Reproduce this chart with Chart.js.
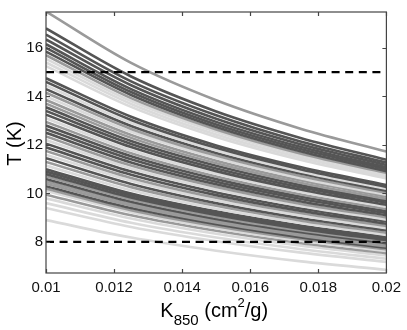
<!DOCTYPE html>
<html>
<head>
<meta charset="utf-8">
<script src="https://cdn.jsdelivr.net/npm/chart.js@4"></script>
<style>
  html, body { margin: 0; padding: 0; background: #fff; }
  #wrap { width: 407px; height: 330px; }
</style>
</head>
<body>
<div id="wrap"><canvas id="chart" width="407" height="330"></canvas></div>
<script>
// opacity K at 850 um (cm2/g) where each curve is sampled
const K_VALUES = [0.01, 0.0125, 0.015, 0.0175, 0.02];

// temperature (K) of every curve at the K_VALUES above
const T_AT_0100 = [17.5, 16.8, 16.55, 16.35, 16.15, 16.0, 15.85, 15.7, 15.55, 15.4, 15.25,
  14.75, 14.6, 14.45, 14.3, 14.15, 14.0, 13.85, 13.7, 13.55, 13.4, 13.25, 13.1, 12.95, 12.8, 12.65,
  12.5, 12.35, 12.2, 12.05, 11.9, 11.75, 11.6, 11.45, 11.3, 11.15, 11.0, 10.9, 10.8, 10.7, 10.6,
  10.5, 10.4, 10.3, 10.2, 10.1, 9.95, 9.8, 9.6, 9.4, 8.9];
const T_AT_0125 = [15.38, 14.82, 14.62, 14.46, 14.30, 14.18, 14.06, 13.93, 13.81, 13.69, 13.57,
  13.16, 13.03, 12.91, 12.78, 12.66, 12.54, 12.41, 12.29, 12.16, 12.04, 11.91, 11.78, 11.66, 11.53, 11.41,
  11.28, 11.15, 11.03, 10.90, 10.77, 10.64, 10.52, 10.39, 10.26, 10.13, 10.00, 9.92, 9.83, 9.75, 9.66,
  9.57, 9.49, 9.40, 9.31, 9.23, 9.10, 8.97, 8.79, 8.62, 8.18];
const T_AT_0150 = [13.84, 13.38, 13.22, 13.08, 12.95, 12.84, 12.74, 12.64, 12.54, 12.43, 12.33,
  11.98, 11.88, 11.77, 11.67, 11.56, 11.46, 11.35, 11.24, 11.14, 11.03, 10.92, 10.81, 10.70, 10.59, 10.48,
  10.38, 10.27, 10.16, 10.04, 9.93, 9.82, 9.71, 9.60, 9.49, 9.37, 9.26, 9.18, 9.11, 9.03, 8.95,
  8.88, 8.80, 8.73, 8.65, 8.57, 8.46, 8.34, 8.18, 8.03, 7.64];
const T_AT_0175 = [12.66, 12.28, 12.13, 12.02, 11.91, 11.82, 11.73, 11.64, 11.56, 11.47, 11.38,
  11.08, 10.99, 10.90, 10.81, 10.71, 10.62, 10.53, 10.43, 10.34, 10.25, 10.15, 10.06, 9.96, 9.86, 9.77,
  9.67, 9.57, 9.47, 9.38, 9.28, 9.18, 9.08, 8.98, 8.88, 8.78, 8.67, 8.61, 8.54, 8.47, 8.40,
  8.33, 8.26, 8.19, 8.12, 8.05, 7.95, 7.84, 7.70, 7.56, 7.20];
const T_AT_0200 = [11.73, 11.39, 11.27, 11.17, 11.07, 11.00, 10.92, 10.85, 10.77, 10.69, 10.62,
  10.35, 10.27, 10.19, 10.11, 10.03, 9.95, 9.87, 9.78, 9.70, 9.62, 9.53, 9.45, 9.36, 9.27, 9.19,
  9.10, 9.01, 8.92, 8.84, 8.75, 8.66, 8.57, 8.48, 8.38, 8.29, 8.20, 8.14, 8.08, 8.01, 7.95,
  7.89, 7.82, 7.76, 7.70, 7.63, 7.54, 7.44, 7.31, 7.18, 6.85];

// which of the three groups each curve belongs to
const GROUP = [1, 0, 0, 0, 0, 0, 0, 1, 2, 2, 2,
  0, 0, 2, 0, 1, 2, 1, 1, 0, 0, 0, 2, 1, 0, 0,
  0, 1, 2, 0, 0, 1, 2, 0, 1, 2, 0, 0, 0, 1, 0,
  1, 1, 0, 1, 2, 1, 2, 2, 2, 2];

// horizontal reference temperatures
const T_LIMITS = [15, 8];

const X_TICKS = [0.01, 0.012, 0.014, 0.016, 0.018, 0.02];
const Y_TICKS = [8, 10, 12, 14, 16];
const Y_MIN = 6.72, Y_MAX = 17.48;

const GROUP_COLORS = ['#555555', '#9a9a9a', '#dadada'];
const FONT = '"Liberation Sans", Arial, Helvetica, sans-serif';
const AXIS_COLOR = '#444';

const columns = [T_AT_0100, T_AT_0125, T_AT_0150, T_AT_0175, T_AT_0200];

const curveSets = GROUP.map((g, i) => ({
    data: K_VALUES.map((k, j) => ({ x: k, y: columns[j][i] })),
    borderColor: GROUP_COLORS[g],
    borderWidth: 2.6,
    pointRadius: 0,
    cubicInterpolationMode: 'monotone',
    fill: false
}));

const limitSets = T_LIMITS.map(t => ({
    data: [{ x: K_VALUES[0], y: t }, { x: K_VALUES[K_VALUES.length - 1], y: t }],
    borderColor: '#000',
    borderWidth: 2.2,
    borderDash: [8, 5.6],
    pointRadius: 0,
    order: -1
}));

// box, inward ticks and the axis titles (with sub/superscript)
const frame = {
    id: 'frame',
    afterDraw(chart) {
        const { ctx, chartArea: a, scales } = chart;
        ctx.save();
        ctx.strokeStyle = AXIS_COLOR;
        ctx.lineWidth = 1.2;
        ctx.strokeRect(a.left, a.top, a.right - a.left, a.bottom - a.top);
        ctx.beginPath();
        X_TICKS.forEach(v => {
            const px = Math.round(scales.x.getPixelForValue(v)) + 0.5;
            ctx.moveTo(px, a.bottom); ctx.lineTo(px, a.bottom - 4);
            ctx.moveTo(px, a.top); ctx.lineTo(px, a.top + 4);
        });
        Y_TICKS.forEach(v => {
            const py = Math.round(scales.y.getPixelForValue(v)) + 0.5;
            ctx.moveTo(a.left, py); ctx.lineTo(a.left + 4, py);
            ctx.moveTo(a.right, py); ctx.lineTo(a.right - 4, py);
        });
        ctx.stroke();

        ctx.fillStyle = '#000';
        // y title
        ctx.save();
        ctx.translate(15, (a.top + a.bottom) / 2 + 1);
        ctx.rotate(-Math.PI / 2);
        ctx.font = '20px ' + FONT;
        ctx.textAlign = 'center';
        ctx.textBaseline = 'middle';
        ctx.fillText('T (K)', 0, 0);
        ctx.restore();

        // x title: K_850 (cm^2/g)
        const parts = [
            { t: 'K', size: 20, dy: 0 },
            { t: '850', size: 15, dy: 8 },
            { t: ' (cm', size: 20, dy: 0 },
            { t: '2', size: 13, dy: -10 },
            { t: '/g)', size: 20, dy: 0 }
        ];
        let total = 0;
        parts.forEach(p => { ctx.font = p.size + 'px ' + FONT; p.w = ctx.measureText(p.t).width; total += p.w; });
        let x = (a.left + a.right) / 2 - total / 2 - 2;
        const base = 317;
        ctx.textAlign = 'left';
        ctx.textBaseline = 'alphabetic';
        parts.forEach(p => {
            ctx.font = p.size + 'px ' + FONT;
            ctx.fillText(p.t, x, base + p.dy);
            x += p.w;
        });
        ctx.restore();
    }
};

new Chart(document.getElementById('chart'), {
    type: 'line',
    data: { datasets: curveSets.concat(limitSets) },
    options: {
        responsive: false,
        animation: false,
        events: [],
        layout: { padding: { top: 4, right: 20, left: 0, bottom: 0 } },
        plugins: { legend: { display: false }, tooltip: { enabled: false } },
        scales: {
            x: {
                type: 'linear', min: 0.01, max: 0.02,
                grid: { display: false, drawTicks: false },
                border: { display: false },
                afterBuildTicks: s => { s.ticks = X_TICKS.map(v => ({ value: v })); },
                afterFit: s => { s.height = 57; },
                ticks: {
                    padding: 6, color: '#111', maxRotation: 0, autoSkip: false,
                    font: { family: FONT, size: 15 },
                    callback: v => String(parseFloat(v.toFixed(3)))
                }
            },
            y: {
                type: 'linear', min: Y_MIN, max: Y_MAX,
                grid: { display: false, drawTicks: false },
                border: { display: false },
                afterBuildTicks: s => { s.ticks = Y_TICKS.map(v => ({ value: v })); },
                afterFit: s => { s.width = 46; },
                ticks: {
                    padding: 3, color: '#111', autoSkip: false,
                    font: { family: FONT, size: 15 }
                }
            }
        }
    },
    plugins: [frame]
});
</script>
</body>
</html>
